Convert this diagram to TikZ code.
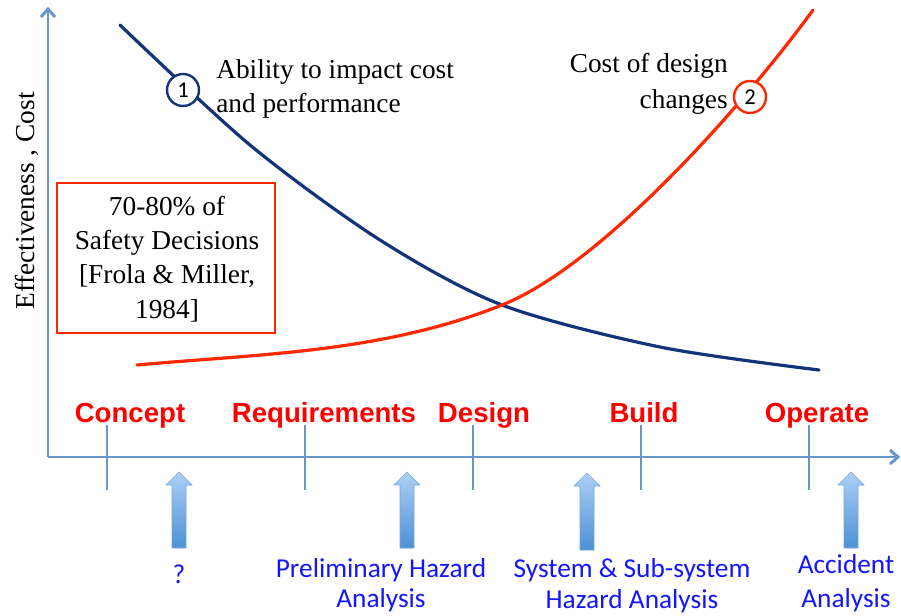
\documentclass[tikz,border=0pt]{standalone}
\usepackage{fontspec}
\setmainfont{Liberation Serif}
\newfontfamily\calib{Carlito}
\newfontfamily\arialf{Liberation Sans}
\definecolor{axisblue}{RGB}{102,150,204}
\definecolor{navy}{RGB}{20,52,122}
\definecolor{curvered}{RGB}{255,40,0}
\definecolor{phasered}{RGB}{255,0,0}
\definecolor{labelblue}{RGB}{20,20,255}
\definecolor{arrtop}{RGB}{172,208,246}
\definecolor{arrbot}{RGB}{78,144,214}
\definecolor{arredge}{RGB}{120,165,220}
\tikzset{
  axisline/.style={draw=axisblue, line width=2.2pt},
  tickline/.style={draw=axisblue, line width=1.8pt},
  phase/.style={text=phasered, font=\arialf\bfseries\fontsize{20.7}{24}\selectfont, inner sep=0pt},
  serif/.style={font=\fontsize{20.5}{25.5}\selectfont, inner sep=0pt},
  bluelabel/.style={text=labelblue, align=center, inner sep=0pt},
  numcircle/.style={circle, fill=white, line width=1.8pt, minimum size=32*0.75pt, inner sep=0pt, font=\calib\fontsize{17}{17}\selectfont},
  blockarrow/.style={top color=arrtop, bottom color=arrbot, draw=arredge, line width=0.5pt}
}
\begin{document}
\begin{tikzpicture}[x=0.75pt,y=-0.75pt]
\useasboundingbox (0,0) rectangle (901,615);

% axes
\coordinate (origin) at (48,457);
\coordinate (ytip) at (48,9);
\coordinate (xtip) at (898,457);
\draw[axisline] (origin) -- (ytip);
\draw[axisline] (origin) -- (xtip);
\draw[axisline, line join=miter] (890,450) -- (xtip) -- (890,464);
\draw[axisline, line join=miter] (41,17) -- (ytip) -- (55,17);

% ticks
\foreach \tx/\nm in {107/t1,305/t2,473/t3,641/t4,809/t5}{
  \coordinate (\nm a) at (\tx,425);
  \coordinate (\nm b) at (\tx,490);
  \draw[tickline] (\nm a) -- (\nm b);
}

% y label
\node[serif, rotate=90] (ylab) at (27,201) {Effectiveness , Cost};

% curves
\draw[navy, line width=2.4pt, line cap=round] plot[smooth] coordinates {(120,25) (250,145) (380,240) (502,305) (660,347) (819,370)};
\coordinate (rs) at (137,365);
\coordinate (rm) at (502,305);
\coordinate (re) at (813,10);
\draw[curvered, line width=2.4pt, line cap=round] (rs) .. controls (257,354) and (382,353) .. (rm) .. controls (602,265) and (743,106) .. (re);

% circles
\node[numcircle, draw=navy] (c1) at (183,90) {1};
\node[numcircle, draw=curvered] (c2) at (750,97) {2};

% curve labels
\node[serif, anchor=base west, align=left, font=\fontsize{20.5}{25.5}\selectfont] (abil) at (216,112) {Ability to impact cost\\and performance};
\node[serif, anchor=base east, align=right, font=\fontsize{20.5}{27}\selectfont] (cost) at (728,108) {Cost of design\\changes};

% box
\node[draw=curvered, line width=1.5pt, minimum width=218*0.75pt, minimum height=150*0.75pt, inner sep=0pt] (box) at (166,258) {};
\node[serif, align=center, anchor=base, font=\fontsize{20.5}{25.75}\selectfont] (boxtext) at (167,318) {70-80\% of\\Safety Decisions\\{[Frola \& Miller,}\\1984]};

% phases
\node[phase, anchor=base] (concept) at (130,422) {Concept};
\node[phase, anchor=base] (req) at (324,422) {Requirements};
\node[phase, anchor=base] (des) at (484,422) {Design};
\node[phase, anchor=base] (build) at (644,422) {Build};
\node[phase, anchor=base] (oper) at (817,422) {Operate};

% block arrows
\foreach \ax/\at/\ab in {179/472/548, 407/472/548, 587/473/550, 851/472/548}{
  \shade[blockarrow] (\ax-7,\ab) -- (\ax-7,\at+13) -- (\ax-13,\at+13) -- (\ax,\at) -- (\ax+13,\at+13) -- (\ax+7,\at+13) -- (\ax+7,\ab) -- cycle;
}

% bottom labels
\node[bluelabel, anchor=base, font=\calib\fontsize{20.5}{22.5}\selectfont] (q) at (179,583) {?};
\node[bluelabel, anchor=base, font=\calib\fontsize{20.5}{22.5}\selectfont] (pha) at (381,607) {Preliminary Hazard\\Analysis};
\node[bluelabel, anchor=base, font=\calib\fontsize{20.5}{23.25}\selectfont] (ssha) at (632,608) {System \& Sub-system\\Hazard Analysis};
\node[bluelabel, anchor=base, font=\calib\fontsize{20.5}{25.5}\selectfont] (acc) at (846,607) {Accident\\Analysis};
\end{tikzpicture}
\end{document}
